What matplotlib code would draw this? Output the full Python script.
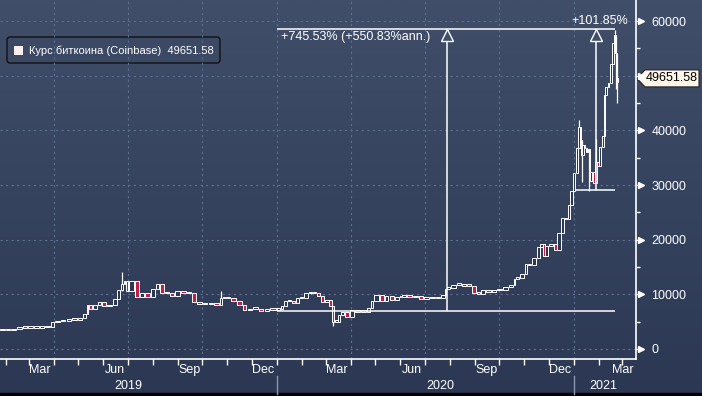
import matplotlib
matplotlib.use("Agg")
from matplotlib import pyplot as plt
import matplotlib.dates as mdates
import matplotlib.transforms as mtransforms
from matplotlib.patches import Polygon, FancyBboxPatch, Rectangle
from matplotlib.colors import LinearSegmentedColormap
import numpy as np
import pandas as pd

plt.rcParams['font.family'] = ['Liberation Sans', 'DejaVu Sans']

# approximate closes (USD)
dates = [
    '2019-01-24', '2019-01-31', '2019-02-07', '2019-02-14', '2019-02-21', '2019-02-28',
    '2019-03-07', '2019-03-14', '2019-03-21', '2019-03-28', '2019-04-02', '2019-04-09',
    '2019-04-16', '2019-04-23', '2019-04-30', '2019-05-07', '2019-05-11', '2019-05-14',
    '2019-05-18', '2019-05-25', '2019-05-30', '2019-06-05', '2019-06-12', '2019-06-18',
    '2019-06-22', '2019-06-26', '2019-06-28', '2019-07-02', '2019-07-09', '2019-07-16',
    '2019-07-22', '2019-07-29', '2019-08-04', '2019-08-09', '2019-08-15', '2019-08-21',
    '2019-08-28', '2019-09-04', '2019-09-11', '2019-09-18', '2019-09-24', '2019-10-01',
    '2019-10-08', '2019-10-15', '2019-10-22', '2019-10-26', '2019-10-29', '2019-11-05',
    '2019-11-12', '2019-11-19', '2019-11-25', '2019-12-02', '2019-12-09', '2019-12-16',
    '2019-12-23', '2019-12-31',
    '2020-01-05', '2020-01-09', '2020-01-14', '2020-01-19', '2020-01-24', '2020-01-29',
    '2020-02-03', '2020-02-09', '2020-02-14', '2020-02-19', '2020-02-24', '2020-02-29',
    '2020-03-05', '2020-03-09', '2020-03-12', '2020-03-16', '2020-03-19', '2020-03-24',
    '2020-03-30', '2020-04-06', '2020-04-13', '2020-04-20', '2020-04-25', '2020-04-29',
    '2020-05-07', '2020-05-12', '2020-05-18', '2020-05-25', '2020-05-31', '2020-06-02',
    '2020-06-09', '2020-06-16', '2020-06-23', '2020-06-30', '2020-07-07', '2020-07-14',
    '2020-07-21', '2020-07-26', '2020-07-28', '2020-08-02', '2020-08-09', '2020-08-16',
    '2020-08-21', '2020-08-28', '2020-09-03', '2020-09-08', '2020-09-14', '2020-09-21',
    '2020-09-28', '2020-10-05', '2020-10-12', '2020-10-19', '2020-10-21', '2020-10-26',
    '2020-11-01', '2020-11-05', '2020-11-10', '2020-11-16', '2020-11-20', '2020-11-24',
    '2020-11-26', '2020-12-01', '2020-12-07', '2020-12-11', '2020-12-16', '2020-12-20',
    '2020-12-24', '2020-12-27', '2020-12-31',
    '2021-01-03', '2021-01-06', '2021-01-08', '2021-01-10', '2021-01-11', '2021-01-13',
    '2021-01-15', '2021-01-17', '2021-01-19', '2021-01-21', '2021-01-24', '2021-01-27',
    '2021-01-29', '2021-02-01', '2021-02-04', '2021-02-07', '2021-02-08', '2021-02-11',
    '2021-02-14', '2021-02-17', '2021-02-19', '2021-02-21', '2021-02-22', '2021-02-23',
    '2021-02-24',
]
closes = [
    3580, 3440, 3400, 3600, 3980, 3820,
    3870, 3880, 3990, 4030, 4900, 5200,
    5050, 5400, 5300, 5750, 6350, 8000,
    7300, 8050, 8600, 7800, 8100, 9100,
    10700, 11800, 12400, 10600, 12500, 9450,
    10300, 9500, 10900, 11900, 10300, 10150,
    9750, 10600, 10150, 10200, 8550, 8300,
    8200, 8350, 8050, 9250, 9450, 9300,
    8800, 8100, 7050, 7300, 7350, 6900,
    7300, 7200,
    7400, 7800, 8800, 8700, 8400, 9300,
    9300, 10150, 10350, 10200, 9650, 8550,
    9050, 7950, 4950, 5000, 6200, 6750,
    5900, 7200, 6850, 6850, 7550, 8800,
    9950, 8800, 9700, 8900, 9450, 9500,
    9800, 9450, 9650, 9150, 9250, 9250,
    9380, 9950, 11050, 11100, 11700, 11900,
    11550, 11500, 10200, 10100, 10700, 10450,
    10700, 10800, 11400, 11750, 12800, 13050,
    13750, 15600, 15300, 16700, 18700, 19150,
    17100, 18800, 19200, 18050, 21300, 23900,
    23700, 26300, 28950,
    32200, 36800, 40600, 38300, 35500, 37400,
    36800, 36000, 36600, 30800, 32300, 30400,
    34300, 33500, 36900, 38900, 46400, 47900,
    48700, 52100, 55900, 57500, 54200, 48800,
    49650,
]

# notable wicks
wick_dates = ['2019-06-26', '2019-10-26', '2020-02-14', '2020-03-12', '2021-01-08',
              '2021-01-11', '2021-01-21', '2021-01-29', '2021-02-21', '2021-02-22', '2021-02-23']
wick_lo = [10600, 8300, 10000, 4200, 36800, 30500, 28900, 30400, 55900, 47600, 45000]
wick_hi = [14100, 10600, 10500, 7950, 41900, 38300, 36600, 38500, 58350, 57500, 54200]

last_price = 49651.58
legend_label = 'Курс биткоина (Coinbase)  49651.58'

# percent change annotations
pct_start = '2020-01-01'
pct_end = '2021-02-21'
pct_low = 6923
pct_high = 58536
pct_mark = '2020-07-28'
pct_text = '+745.53% (+550.83%ann.)'
pct2_start = '2021-01-02'
pct2_low = 29000
pct2_mark = '2021-01-28'
pct2_text = '+101.85%'

BG_TOP = '#404E6A'
BG_BOT = '#2C3853'
RED = '#C41E45'
GRID = '#5C7090'
W, H = 702, 396

fig = plt.figure(figsize=(W / 100, H / 100), dpi=100)

# gradient background
bg = fig.add_axes([0, 0, 1, 1], zorder=0)
cmap = LinearSegmentedColormap.from_list('bg', [BG_BOT, BG_TOP])
bg.imshow(np.linspace(0, 1, 256).reshape(-1, 1), aspect='auto', cmap=cmap,
          extent=[0, 1, 0, 1], origin='lower')
bg.axis('off')
bg.add_patch(Rectangle((0, 0), 1, 3 / H, color='black', transform=bg.transAxes))

ax = fig.add_axes([0, (H - 359) / H, 636 / W, 359 / H], zorder=1)
ax.patch.set_visible(False)

d = mdates.date2num(pd.to_datetime(dates))
c = np.array(closes, dtype=float)
o = np.r_[c[0], c[:-1]]
gaps = np.r_[7, np.diff(d)]
centers = d - gaps / 2
bottoms = np.minimum(o, c)
heights = np.maximum(np.abs(c - o), 300)
fills = [RED if cc < oo else BG_BOT for oo, cc in zip(o, c)]

wd = mdates.date2num(pd.to_datetime(wick_dates))
wick_x = [centers[np.argmin(np.abs(d - x))] for x in wd]
ax.vlines(wick_x, wick_lo, wick_hi, color='white', lw=0.9, zorder=3)
ax.bar(centers, heights, bottom=bottoms, width=gaps * 0.8, color=fills,
       edgecolor='white', linewidth=0.7, zorder=4)

x0 = mdates.date2num(pd.Timestamp('2020-01-01'))
x1 = mdates.date2num(pd.Timestamp('2021-01-01'))
ax.set_xlim(x0 - 341.3, x1 + 76.4)
ax.set_ylim(-1835, 63850)

# grid
yt = list(range(0, 60001, 10000))
for y in yt:
    ax.axhline(y, color=GRID, lw=0.8, ls=(0, (2, 3)), zorder=1)
for q in ['2019-04-01', '2019-07-01', '2019-10-01', '2020-01-01', '2020-04-01',
          '2020-07-01', '2020-10-01', '2021-01-01']:
    ax.axvline(mdates.date2num(pd.Timestamp(q)), color=GRID, lw=0.8, ls=(0, (2, 3)), zorder=1)

for s in ['top', 'left']:
    ax.spines[s].set_visible(False)
for s in ['bottom', 'right']:
    ax.spines[s].set_color('white')
    ax.spines[s].set_linewidth(1.2)

# x axis: monthly ticks, labels drawn by hand
months = pd.date_range('2019-02-01', '2021-03-01', freq='MS')
ax.set_xticks(mdates.date2num(months))
ax.set_xticklabels([])
ax.tick_params(axis='x', length=4, width=1, colors='white', direction='out')

xtr = ax.get_xaxis_transform()
month_lbls = [('2019-03-15', 'Mar'), ('2019-06-15', 'Jun'), ('2019-09-15', 'Sep'),
              ('2019-12-15', 'Dec'), ('2020-03-15', 'Mar'), ('2020-06-15', 'Jun'),
              ('2020-09-15', 'Sep'), ('2020-12-15', 'Dec'), ('2021-03-02', 'Mar')]
for ds, lb in month_lbls:
    ax.text(mdates.date2num(pd.Timestamp(ds)), -11 / 359, lb, transform=xtr,
            ha='center', va='center', color='white', fontsize=9)
for ds, lb in [('2019-07-02', '2019'), ('2020-07-20', '2020'), ('2021-02-06', '2021')]:
    ax.text(mdates.date2num(pd.Timestamp(ds)), -27 / 359, lb, transform=xtr,
            ha='center', va='center', color='white', fontsize=9)
for xs in [x0, x1]:
    ax.plot([xs, xs], [-17 / 359, -35 / 359], transform=xtr, color='#8A97AD',
            lw=1, clip_on=False)

# y axis on the right; the 50000 label sits under the last price tag
ax.yaxis.tick_right()
ax.set_yticks(yt)
ax.set_yticklabels(['' if v == 50000 else str(v) for v in yt])
ax.set_yticks(list(range(5000, 60000, 10000)), minor=True)
ax.tick_params(axis='y', which='major', length=3, width=1, colors='white',
               labelsize=9, pad=8)
ax.tick_params(axis='y', which='minor', length=3, width=1, colors='white')
ytr = mtransforms.blended_transform_factory(ax.transAxes, ax.transData)
ax.plot([1 + 5 / 636] * len(yt), yt, ls='none', marker='>', ms=4, color='white',
        transform=ytr, clip_on=False)

# percent change annotations
ps, pe = mdates.date2num(pd.Timestamp(pct_start)), mdates.date2num(pd.Timestamp(pct_end))
pm = mdates.date2num(pd.Timestamp(pct_mark))
p2s = mdates.date2num(pd.Timestamp(pct2_start))
p2m = mdates.date2num(pd.Timestamp(pct2_mark))
ax.hlines([pct_low, pct_high], ps, pe, color='white', lw=1.1, zorder=5)
ax.hlines(pct2_low, p2s, pe, color='white', lw=1.1, zorder=5)
ax.vlines([pm], pct_low, pct_high, color='white', lw=1.1, zorder=5)
ax.vlines([p2m], pct2_low, pct_high, color='white', lw=1.1, zorder=5)
tri = mtransforms.offset_copy(ax.transData, fig=fig, y=-6, units='dots')
ax.plot([pm, p2m], [pct_high, pct_high], ls='none', marker='^', ms=8.5,
        mfc=BG_TOP, mec='white', mew=1, transform=tri, zorder=6)
ax.annotate(pct_text, (ps, pct_high), xytext=(4, -8), textcoords='offset pixels',
            ha='left', va='center', color='white', fontsize=9)
ax.annotate(pct2_text, (pe, pct_high), xytext=(13, 8), textcoords='offset pixels',
            ha='right', va='center', color='white', fontsize=9, annotation_clip=False)

# last price tag (pixel coordinates)
ident = mtransforms.IdentityTransform()
yp = 349 - last_price * 0.00545
tag = Polygon([(637, H - yp), (645, H - yp + 8.5), (699, H - yp + 8.5),
               (699, H - yp - 8.5), (645, H - yp - 8.5)], closed=True,
              facecolor='#FFF6EA', edgecolor='#222222', lw=0.8, transform=ident)
fig.add_artist(tag)
fig.text(646 / W, 1 - yp / H, f'{last_price:.2f}', ha='left', va='center',
         color='black', fontsize=9)

# legend box
box = FancyBboxPatch((7, H - 63), 213, 26, boxstyle='round,pad=0,rounding_size=3',
                     facecolor='#3B4965', edgecolor='#111111', lw=1, transform=ident)
fig.add_artist(box)
fig.add_artist(Rectangle((14, H - 55), 9, 9, facecolor='#FFF0F0', edgecolor='none',
                         transform=ident))
fig.text(29 / W, 1 - 51 / H, legend_label, ha='left', va='center', color='white',
         fontsize=8)

fig.savefig('out.png', dpi=100)
